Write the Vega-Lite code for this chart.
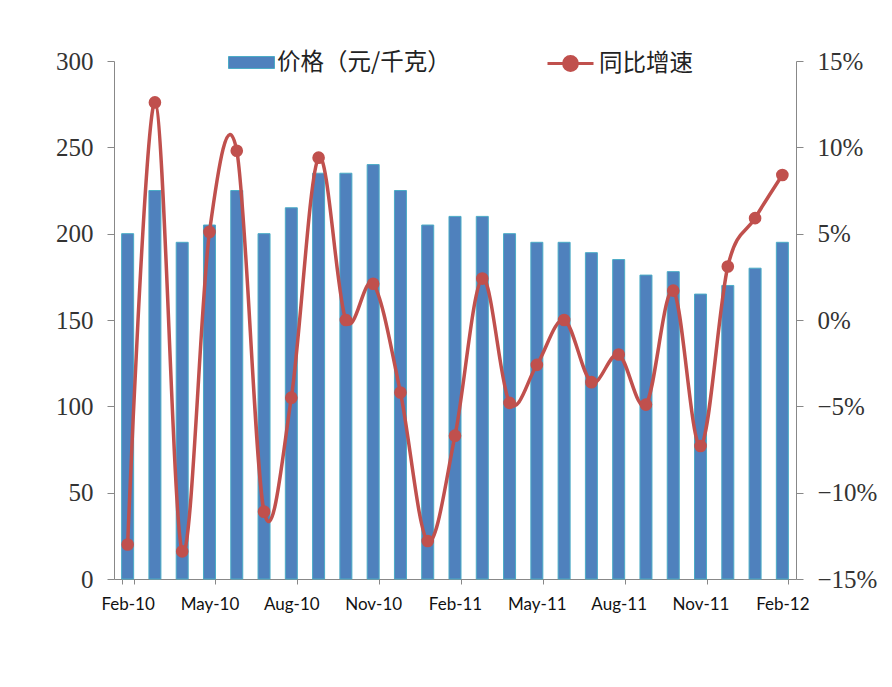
{
  "$schema": "https://vega.github.io/schema/vega-lite/v6.json",
  "width": 682,
  "height": 518,
  "autosize": {"type": "none"},
  "padding": {"left": 114, "top": 61, "right": 96, "bottom": 108},
  "background": "white",
  "config": {"view": {"stroke": null}},
  "data": {
    "values": [
      {"month": "Feb-10", "price": 200, "yoy": -0.130},
      {"month": "Mar-10", "price": 225, "yoy": 0.126},
      {"month": "Apr-10", "price": 195, "yoy": -0.134},
      {"month": "May-10", "price": 205, "yoy": 0.051},
      {"month": "Jun-10", "price": 225, "yoy": 0.098},
      {"month": "Jul-10", "price": 200, "yoy": -0.111},
      {"month": "Aug-10", "price": 215, "yoy": -0.045},
      {"month": "Sep-10", "price": 235, "yoy": 0.094},
      {"month": "Oct-10", "price": 235, "yoy": 0.000},
      {"month": "Nov-10", "price": 240, "yoy": 0.021},
      {"month": "Dec-10", "price": 225, "yoy": -0.042},
      {"month": "Jan-11", "price": 205, "yoy": -0.128},
      {"month": "Feb-11", "price": 210, "yoy": -0.067},
      {"month": "Mar-11", "price": 210, "yoy": 0.024},
      {"month": "Apr-11", "price": 200, "yoy": -0.048},
      {"month": "May-11", "price": 195, "yoy": -0.026},
      {"month": "Jun-11", "price": 195, "yoy": 0.000},
      {"month": "Jul-11", "price": 189, "yoy": -0.036},
      {"month": "Aug-11", "price": 185, "yoy": -0.020},
      {"month": "Sep-11", "price": 176, "yoy": -0.049},
      {"month": "Oct-11", "price": 178, "yoy": 0.017},
      {"month": "Nov-11", "price": 165, "yoy": -0.073},
      {"month": "Dec-11", "price": 170, "yoy": 0.031},
      {"month": "Jan-12", "price": 180, "yoy": 0.059},
      {"month": "Feb-12", "price": 195, "yoy": 0.084}
    ]
  },
  "encoding": {
    "x": {
      "field": "month",
      "type": "ordinal",
      "sort": null,
      "scale": {"paddingInner": 0.56, "paddingOuter": 0.28},
      "axis": {
        "title": null,
        "values": ["Feb-10", "May-10", "Aug-10", "Nov-10", "Feb-11", "May-11", "Aug-11", "Nov-11", "Feb-12"],
        "labelAngle": 0,
        "tickBand": "extent",
        "tickSize": 5,
        "tickColor": "#888888",
        "domainColor": "#888888",
        "labelFont": "Lato",
        "labelFontSize": 17,
        "labelColor": "#111111",
        "labelPadding": 12
      }
    }
  },
  "layer": [
    {
      "mark": {"type": "bar", "stroke": "#4BACC6", "strokeWidth": 1},
      "encoding": {
        "y": {
          "field": "price",
          "type": "quantitative",
          "scale": {"domain": [0, 300], "nice": false},
          "axis": {
            "title": null,
            "orient": "left",
            "values": [0, 50, 100, 150, 200, 250, 300],
            "grid": false,
            "tickSize": 7,
            "tickColor": "#888888",
            "domainColor": "#888888",
            "labelFont": "Liberation Serif",
            "labelFontSize": 25,
            "labelColor": "#333333",
            "labelPadding": 14
          }
        },
        "fill": {
          "datum": "价格（元/千克）",
          "scale": {"range": ["#4F81BD"]},
          "legend": {
            "title": null,
            "orient": "none",
            "legendX": 114,
            "legendY": -22,
            "padding": 0,
            "symbolType": "M-1,-0.26H1V0.26H-1Z",
            "symbolSize": 2116,
            "symbolStrokeColor": "#4BACC6",
            "symbolStrokeWidth": 1,
            "symbolOpacity": 1,
            "labelFont": "Noto Sans CJK SC",
            "labelFontSize": 23.5,
            "labelLimit": 400,
            "labelColor": "#222222",
            "labelOffset": 2
          }
        }
      }
    },
    {
      "encoding": {
        "x": {"field": "month", "type": "ordinal", "sort": null, "bandPosition": 0.5},
        "y": {
          "field": "yoy",
          "type": "quantitative",
          "scale": {"domain": [-0.15, 0.15], "nice": false},
          "axis": {
            "title": null,
            "orient": "right",
            "format": ".0%",
            "values": [-0.15, -0.1, -0.05, 0, 0.05, 0.1, 0.15],
            "grid": false,
            "tickSize": 7,
            "tickColor": "#888888",
            "domainColor": "#888888",
            "labelFont": "Liberation Serif",
            "labelFontSize": 25,
            "labelColor": "#333333",
            "labelPadding": 14
          }
        }
      },
      "layer": [
        {
          "mark": {"type": "line", "interpolate": "cardinal", "strokeWidth": 3.5},
          "encoding": {
            "stroke": {
              "datum": "同比增速",
              "scale": {"range": ["#C0504D"]},
              "legend": {
                "title": null,
                "orient": "none",
                "legendX": 432,
                "legendY": -22,
                "padding": 0,
                "symbolType": "M-1,0H1M0.3,0A0.3,0.3,0,1,1,-0.3,0A0.3,0.3,0,1,1,0.3,0Z",
                "symbolSize": 2116,
                "symbolFillColor": "#C0504D",
                "symbolStrokeWidth": 3,
                "symbolOpacity": 1,
                "labelFont": "Noto Sans CJK SC",
                "labelFontSize": 23.5,
                "labelLimit": 400,
                "labelColor": "#222222",
                "labelOffset": 4
              }
            }
          }
        },
        {
          "mark": {"type": "point", "filled": true, "size": 160, "opacity": 1, "color": "#C0504D"},
          "encoding": {}
        }
      ]
    }
  ],
  "resolve": {"scale": {"y": "independent", "fill": "independent", "stroke": "independent"}}
}
